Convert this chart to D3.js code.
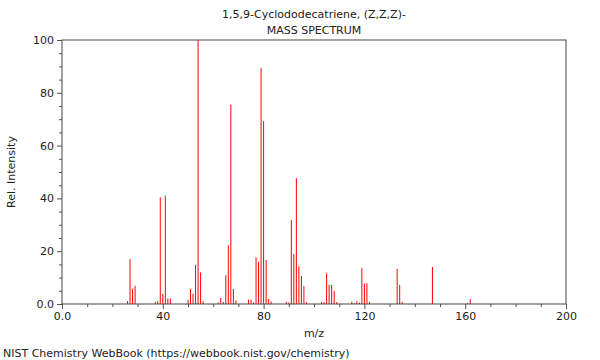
<!DOCTYPE html>
<html><head><meta charset="utf-8">
<script src="https://cdn.jsdelivr.net/npm/d3@7"></script>
<style>body{margin:0;background:#fff;} svg{display:block;font-family:"DejaVu Sans",sans-serif;}</style>
</head><body>
<script>
const titleLines = ["1,5,9-Cyclododecatriene, (Z,Z,Z)-", "MASS SPECTRUM"];
const mzValues = [26,27,28,29,37,38,39,40,41,42,43,50,51,52,53,54,55,56,62,63,64,65,66,67,68,69,74,75,76,77,78,79,80,81,82,83,89,90,91,92,93,94,95,96,97,103,104,105,106,107,108,109,115,116,117,118,119,120,121,122,133,134,135,147,161,162];
const intensities = [1.1,17,5.7,6.9,0.8,1.1,40.4,3.9,41,2.1,2.1,1.6,5.7,3.9,14.8,100,12,1.1,0.6,2.3,0.8,10.9,22.2,75.5,5.7,1.3,1.6,1.6,0.6,17.7,16,89.4,69.3,16.7,1.9,0.9,0.9,0.6,31.8,18.9,47.7,14.3,10.6,6.8,0.7,0.7,0.7,11.6,7.3,7.2,4.9,0.7,0.9,0.3,1.1,0.6,13.6,7.8,7.9,0.8,13.3,7.2,0.8,14,0.4,1.8];
const xTicks = [0,40,80,120,160,200];
const yTicks = [0,20,40,60,80,100];
const xLabel = "m/z", yLabel = "Rel. Intensity";
const footer = "NIST Chemistry WebBook (https://webbook.nist.gov/chemistry)";

const W = 600, H = 360, m = {l:62, r:34, t:40, b:56};
const svg = d3.select("body").append("svg").attr("width", W).attr("height", H);
const x = d3.scaleLinear().domain([0,200]).range([m.l, W - m.r]);
const y = d3.scaleLinear().domain([0,100]).range([H - m.b, m.t]);

svg.selectAll("line.peak").data(mzValues).join("line").attr("class","peak")
  .attr("x1", d => x(d)).attr("x2", d => x(d))
  .attr("y1", y(0)).attr("y2", (d,i) => y(intensities[i]))
  .attr("stroke", "#ff0000").attr("stroke-width", 1);

const fmt = d => d === 0 ? "0.0" : String(d);
const xa = svg.append("g").attr("transform", `translate(0,${y(0)})`)
  .call(d3.axisBottom(x).tickValues(xTicks).tickFormat(fmt).tickSize(5).tickPadding(3));
const xm = svg.append("g").attr("transform", `translate(0,${y(0)})`)
  .call(d3.axisBottom(x).tickValues(d3.range(0,201,10).filter(v => v % 40)).tickFormat("").tickSize(3));
const ya = svg.append("g").attr("transform", `translate(${x(0)},0)`)
  .call(d3.axisLeft(y).tickValues(yTicks).tickFormat(fmt).tickSize(5).tickPadding(3));
const ym = svg.append("g").attr("transform", `translate(${x(0)},0)`)
  .call(d3.axisLeft(y).tickValues(d3.range(0,101,5).filter(v => v % 20)).tickFormat("").tickSize(3));
[xa,xm,ya,ym].forEach(g => {
  g.select(".domain").remove();
  g.selectAll(".tick line").attr("stroke", "#555");
  g.selectAll("text").attr("font-size", 11).attr("fill", "#222").attr("font-family", "DejaVu Sans");
});

svg.append("rect").attr("x", x(0)).attr("y", y(100)).attr("width", x(200)-x(0)).attr("height", y(0)-y(100))
  .attr("fill", "none").attr("stroke", "#444").attr("stroke-width", 1);

svg.selectAll("text.title").data(titleLines).join("text").attr("class","title")
  .attr("x", (x(0)+x(200))/2).attr("y", (d,i) => 18 + i*16).attr("text-anchor","middle")
  .attr("font-size", 11).attr("fill", "#222").text(d => d);
svg.append("text").attr("x", (x(0)+x(200))/2).attr("y", 337).attr("text-anchor","middle")
  .attr("font-size", 11).attr("fill", "#222").text(xLabel);
svg.append("text").attr("transform", `translate(15,${(y(0)+y(100))/2}) rotate(-90)`).attr("text-anchor","middle")
  .attr("font-size", 11).attr("fill", "#222").text(yLabel);
svg.append("text").attr("x", 3).attr("y", 357).attr("font-size", 11).attr("fill", "#222").text(footer);
</script>
</body></html>
